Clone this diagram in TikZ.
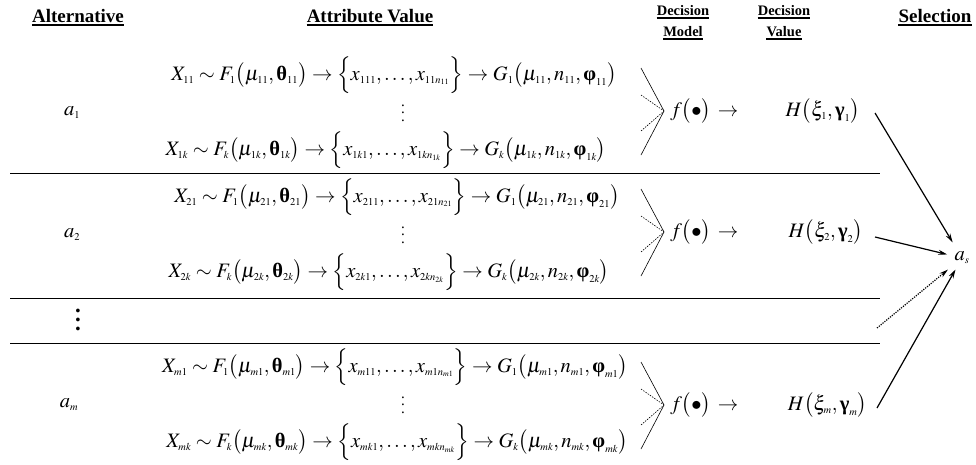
\documentclass[tikz,border=0pt]{standalone}
\usepackage{mathptmx}
\usepackage{amsmath}
\usepackage[no-math]{fontspec}
\setmainfont{Liberation Serif}
\usetikzlibrary{arrows.meta}
\DeclareMathSizes{20.5}{20.5}{10.5}{8}
\newcommand\bth{\textbf{θ}}
\newcommand\bph{\textbf{φ}}
\newcommand\bga{\textbf{γ}}
\newcommand\myvd[1]{\vbox{\baselineskip#1\lineskiplimit0pt\hbox{.}\hbox{.}\hbox{.}}}
\newcommand\LineOne[1]{$X_{#1 1}\sim F_1\bigl(\mu_{#1 1},\bth_{#1 1}\bigr)\rightarrow\Bigl\{x_{#1 11},\ldots,x_{#1 1n_{#1 1}}\Bigr\}\rightarrow G_1\bigl(\mu_{#1 1},n_{#1 1},\bph_{#1 1}\bigr)$}
\newcommand\LineK[1]{$X_{#1 k}\sim F_k\bigl(\mu_{#1 k},\bth_{#1 k}\bigr)\rightarrow\Bigl\{x_{#1 k1},\ldots,x_{#1 kn_{#1 k}}\Bigr\}\rightarrow G_k\bigl(\mu_{#1 k},n_{#1 k},\bph_{#1 k}\bigr)$}
\begin{document}
\begin{tikzpicture}[x=1pt,y=-1pt,
  every node/.style={inner sep=0pt, font=\fontsize{20.5}{24}\selectfont},
  hdr/.style={anchor=base, font=\fontsize{19}{22}\selectfont\bfseries},
  hdrs/.style={anchor=base, font=\fontsize{14.5}{17}\selectfont\bfseries},
  ul/.style={line width=1.3pt},
  sep/.style={line width=0.9pt},
  conv/.style={line width=0.6pt},
  convd/.style={line width=0.6pt, dash pattern=on 1.5pt off 1.2pt},
  sel/.style={line width=1.2pt, -{Stealth[length=9pt,width=5pt]}},
  seld/.style={sel, dash pattern=on 1.2pt off 1.2pt}]
\useasboundingbox (0,0) rectangle (976,464);

% headers
\node[hdr] (h-alt) at (78,22) {Alternative};
\node[hdr] (h-att) at (370,22) {Attribute Value};
\node[hdrs] (h-dm1) at (683,15) {Decision};
\node[hdrs] (h-dm2) at (683,36) {Model};
\node[hdrs] (h-dv1) at (784,15) {Decision};
\node[hdrs] (h-dv2) at (784,36) {Value};
\node[hdr] (h-sel) at (935,22) {Selection};
\foreach \n in {h-alt,h-att,h-dm1,h-dm2,h-dv1,h-dv2,h-sel}
  \draw[ul] ([yshift=-3pt]\n.base west) -- ([yshift=-3pt]\n.base east);

% separators
\draw[sep] (10,173) -- (880,173);
\draw[sep] (10,298) -- (880,298);
\draw[sep] (10,343) -- (880,343);

% alternatives
\node (a1) at (72,113) {$a_1$};
\node (a2) at (72,235) {$a_2$};
\node (adots) at (78,320) {\fontsize{23}{25}\selectfont\bfseries\myvd{9pt}};
\node (am) at (69,405) {$a_m$};

% attribute rows
\node (r11) at (394,75) {\LineOne{1}};
\node (r1d) at (403,113) {\fontsize{15}{17}\selectfont\myvd{7.5pt}};
\node (r1k) at (386,150) {\LineK{1}};
\node (r21) at (397,197) {\LineOne{2}};
\node (r2d) at (403,235) {\fontsize{15}{17}\selectfont\myvd{7.5pt}};
\node (r2k) at (389,272) {\LineK{2}};
\node (rm1) at (395,367) {\LineOne{m}};
\node (rmd) at (403,405) {\fontsize{15}{17}\selectfont\myvd{7.5pt}};
\node (rmk) at (397,442) {\LineK{m}};

% convergence marks and decision model / value
\foreach \c/\i in {111/1,232/2,405/m}{
  \coordinate (t\i) at (664,\c);
  \coordinate (u\i) at (641,\c-43);
  \coordinate (v\i) at (641,\c-16);
  \coordinate (w\i) at (641,\c+20);
  \coordinate (z\i) at (641,\c+44);
  \draw[conv] (u\i) -- (t\i) -- (z\i);
  \draw[convd] (v\i) -- (t\i);
  \draw[convd] (w\i) -- (t\i);
}
\node[anchor=west] (f1) at (670,111) {$f\bigl(\bullet\bigr)\,\rightarrow$};
\node[anchor=west] (f2) at (670,232) {$f\bigl(\bullet\bigr)\,\rightarrow$};
\node[anchor=west] (fm) at (670,405) {$f\bigl(\bullet\bigr)\,\rightarrow$};
\node[anchor=east] (H1) at (860,111) {$H\bigl(\xi_1,\bga_1\bigr)$};
\node[anchor=east] (H2) at (863,232) {$H\bigl(\xi_2,\bga_2\bigr)$};
\node[anchor=east] (Hm) at (867,405) {$H\bigl(\xi_m,\bga_m\bigr)$};

% selection
\node[circle, minimum size=36pt] (as) at (962,258) {$a_s$};
\coordinate (dd) at (877,328);
\draw[sel] ([xshift=15pt,yshift=-2pt]H1.east) -- (as);
\draw[sel, shorten >=-3pt] ([xshift=12pt,yshift=-5pt]H2.east) -- (as);
\draw[seld] (dd) -- (as);
\draw[sel, shorten >=-5pt] ([xshift=10pt,yshift=-3pt]Hm.east) -- (as);
\end{tikzpicture}
\end{document}
